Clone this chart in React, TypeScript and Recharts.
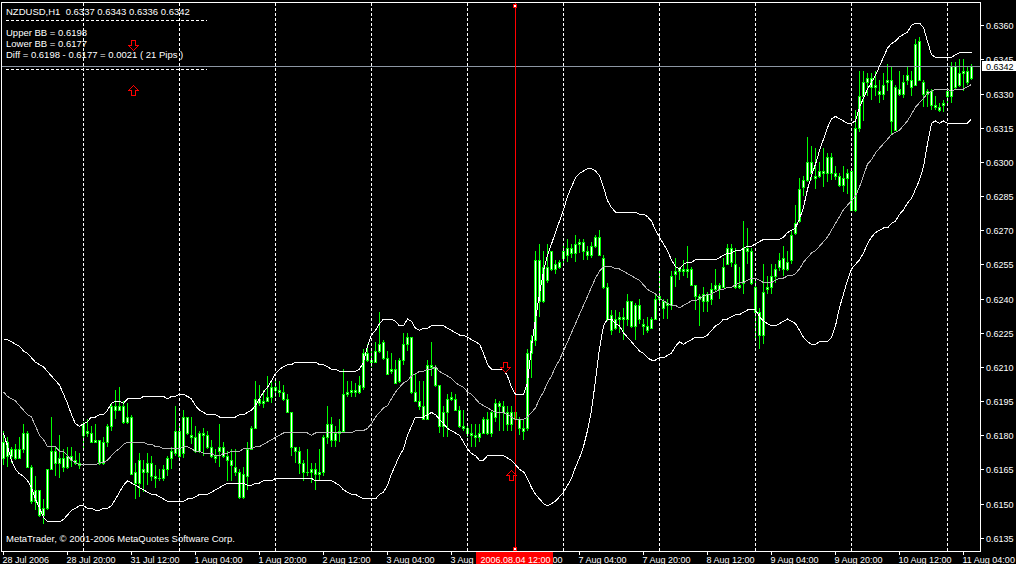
import React from "react";
import {
  ComposedChart,
  Bar,
  Line,
  XAxis,
  YAxis,
  ReferenceLine,
  ReferenceDot,
} from "recharts";

const LIME = "#00ff00";
const FONT = '"Liberation Sans", Arial, sans-serif';

// NZDUSD H1, one entry per hourly bar starting 28 Jul 2006 04:00, prices in pips (6170 = 0.6170)
const opens = [
  6170, 6177, 6171, 6174, 6170, 6174, 6181, 6166, 6151, 6156,
  6145, 6148, 6165, 6173, 6168, 6170, 6166, 6171, 6169, 6168,
  6180, 6182, 6181, 6177, 6178, 6168, 6177, 6184, 6193, 6191,
  6193, 6186, 6188, 6164, 6159, 6165, 6164, 6168, 6162, 6161,
  6161, 6165, 6170, 6172, 6182, 6172, 6188, 6180, 6179, 6173,
  6181, 6180, 6175, 6171, 6173, 6175, 6171, 6169, 6166, 6164,
  6153, 6162, 6174, 6183, 6196, 6194, 6195, 6197, 6201, 6200,
  6199, 6196, 6190, 6175, 6173, 6168, 6164, 6164, 6165, 6163,
  6164, 6179, 6185, 6178, 6181, 6182, 6198, 6199, 6200, 6199,
  6201, 6216, 6213, 6212, 6217, 6221, 6214, 6208, 6209, 6204,
  6213, 6220, 6223, 6199, 6195, 6193, 6187, 6211, 6210, 6202,
  6184, 6190, 6196, 6196, 6191, 6184, 6183, 6181, 6180, 6179,
  6181, 6187, 6181, 6188, 6194, 6193, 6190, 6185, 6190, 6187,
  6183, 6183, 6216, 6222, 6257, 6239, 6254, 6253, 6255, 6254,
  6258, 6259, 6262, 6260, 6264, 6265, 6261, 6259, 6263, 6267,
  6258, 6245, 6233, 6227, 6231, 6232, 6231, 6239, 6228, 6237,
  6229, 6228, 6227, 6231, 6240, 6239, 6237, 6237, 6251, 6252,
  6253, 6252, 6253, 6246, 6241, 6239, 6242, 6240, 6244, 6246,
  6245, 6255, 6262, 6255, 6245, 6247, 6262, 6261, 6245, 6234,
  6224, 6244, 6245, 6250, 6254, 6258, 6253, 6257, 6269, 6274,
  6289, 6292, 6300, 6294, 6294, 6296, 6295, 6302, 6295, 6294,
  6290, 6293, 6296, 6279, 6315, 6329, 6335, 6337, 6333, 6331,
  6330, 6335, 6336, 6314, 6332, 6330, 6336, 6336, 6334, 6353,
  6335, 6330, 6331, 6325, 6324, 6325, 6329, 6329, 6342, 6334,
  6339, 6340, 6337,
];
const highs = [
  6182, 6179, 6175, 6176, 6179, 6185, 6182, 6167, 6162, 6156,
  6152, 6165, 6188, 6175, 6180, 6174, 6175, 6175, 6173, 6172,
  6186, 6187, 6184, 6185, 6178, 6179, 6185, 6194, 6200, 6201,
  6195, 6194, 6189, 6168, 6172, 6169, 6172, 6171, 6167, 6165,
  6167, 6171, 6175, 6193, 6185, 6191, 6188, 6188, 6184, 6182,
  6183, 6182, 6178, 6174, 6185, 6177, 6173, 6174, 6174, 6165,
  6166, 6177, 6184, 6204, 6202, 6200, 6206, 6204, 6204, 6204,
  6202, 6198, 6190, 6175, 6175, 6169, 6174, 6168, 6168, 6174,
  6180, 6193, 6188, 6184, 6187, 6209, 6204, 6204, 6203, 6206,
  6218, 6220, 6217, 6221, 6234, 6222, 6217, 6216, 6213, 6214,
  6225, 6225, 6223, 6207, 6204, 6204, 6213, 6221, 6211, 6202,
  6193, 6198, 6199, 6198, 6193, 6191, 6185, 6185, 6185, 6185,
  6188, 6190, 6191, 6196, 6195, 6195, 6193, 6193, 6193, 6188,
  6187, 6218, 6224, 6261, 6264, 6261, 6264, 6261, 6257, 6257,
  6264, 6266, 6264, 6268, 6266, 6266, 6263, 6265, 6268, 6270,
  6259, 6247, 6235, 6235, 6234, 6236, 6242, 6239, 6238, 6240,
  6231, 6232, 6232, 6242, 6253, 6240, 6240, 6252, 6258, 6254,
  6257, 6263, 6254, 6246, 6242, 6245, 6243, 6247, 6253, 6247,
  6258, 6264, 6264, 6262, 6254, 6274, 6271, 6262, 6249, 6236,
  6255, 6250, 6255, 6255, 6260, 6263, 6261, 6270, 6281, 6293,
  6294, 6311, 6307, 6306, 6300, 6306, 6304, 6304, 6298, 6295,
  6298, 6297, 6296, 6323, 6340, 6340, 6339, 6339, 6340, 6336,
  6339, 6343, 6342, 6334, 6340, 6338, 6342, 6340, 6354, 6355,
  6336, 6332, 6332, 6329, 6326, 6327, 6332, 6344, 6344, 6345,
  6345, 6342, 6343,
];
const lows = [
  6167, 6166, 6168, 6169, 6170, 6172, 6166, 6150, 6147, 6144,
  6141, 6147, 6165, 6162, 6161, 6164, 6165, 6166, 6167, 6165,
  6174, 6179, 6177, 6177, 6167, 6167, 6175, 6182, 6187, 6191,
  6185, 6185, 6163, 6152, 6153, 6155, 6158, 6160, 6157, 6160,
  6160, 6162, 6165, 6171, 6169, 6170, 6180, 6176, 6172, 6172,
  6171, 6174, 6170, 6168, 6166, 6170, 6160, 6160, 6162, 6152,
  6152, 6156, 6174, 6183, 6193, 6192, 6195, 6194, 6197, 6197,
  6195, 6190, 6171, 6168, 6163, 6160, 6162, 6159, 6156, 6160,
  6162, 6176, 6175, 6175, 6177, 6182, 6197, 6197, 6197, 6198,
  6200, 6212, 6210, 6212, 6216, 6213, 6207, 6207, 6203, 6203,
  6211, 6217, 6198, 6195, 6191, 6187, 6187, 6206, 6201, 6181,
  6179, 6179, 6195, 6191, 6183, 6182, 6179, 6175, 6175, 6177,
  6181, 6180, 6179, 6186, 6182, 6182, 6182, 6182, 6181, 6180,
  6178, 6182, 6205, 6219, 6232, 6238, 6247, 6252, 6251, 6253,
  6255, 6256, 6258, 6256, 6260, 6257, 6257, 6258, 6262, 6259,
  6244, 6230, 6224, 6226, 6225, 6222, 6228, 6227, 6222, 6229,
  6224, 6225, 6227, 6231, 6238, 6231, 6231, 6235, 6245, 6248,
  6250, 6249, 6246, 6235, 6228, 6234, 6234, 6237, 6243, 6240,
  6245, 6255, 6254, 6244, 6244, 6242, 6255, 6246, 6222, 6218,
  6220, 6242, 6242, 6247, 6252, 6250, 6252, 6255, 6268, 6273,
  6285, 6291, 6292, 6288, 6293, 6289, 6291, 6292, 6292, 6289,
  6287, 6286, 6279, 6278, 6313, 6318, 6329, 6327, 6329, 6326,
  6327, 6331, 6312, 6314, 6329, 6328, 6334, 6329, 6334, 6336,
  6324, 6324, 6323, 6323, 6322, 6322, 6326, 6326, 6332, 6333,
  6331, 6334, 6336,
];
const closes = [
  6177, 6171, 6174, 6170, 6174, 6181, 6166, 6151, 6156, 6145,
  6148, 6165, 6173, 6168, 6170, 6166, 6171, 6169, 6168, 6167,
  6185, 6181, 6177, 6178, 6168, 6177, 6184, 6193, 6191, 6193,
  6186, 6188, 6163, 6159, 6169, 6164, 6168, 6162, 6161, 6161,
  6165, 6170, 6173, 6182, 6171, 6188, 6181, 6179, 6173, 6181,
  6180, 6175, 6171, 6170, 6175, 6171, 6169, 6167, 6164, 6153,
  6163, 6174, 6183, 6196, 6194, 6195, 6197, 6201, 6200, 6199,
  6196, 6190, 6175, 6173, 6168, 6164, 6164, 6165, 6163, 6164,
  6179, 6185, 6178, 6181, 6182, 6198, 6199, 6200, 6199, 6202,
  6216, 6213, 6212, 6217, 6220, 6214, 6207, 6209, 6203, 6213,
  6220, 6223, 6199, 6195, 6193, 6187, 6211, 6210, 6202, 6184,
  6190, 6196, 6197, 6191, 6184, 6183, 6181, 6180, 6179, 6181,
  6187, 6181, 6190, 6194, 6193, 6190, 6185, 6190, 6187, 6183,
  6182, 6216, 6222, 6257, 6239, 6254, 6248, 6261, 6253, 6256,
  6261, 6262, 6260, 6264, 6265, 6261, 6259, 6263, 6267, 6259,
  6245, 6231, 6226, 6231, 6232, 6231, 6239, 6228, 6237, 6231,
  6228, 6226, 6231, 6240, 6241, 6236, 6238, 6250, 6252, 6253,
  6252, 6253, 6246, 6241, 6240, 6242, 6239, 6244, 6246, 6244,
  6254, 6262, 6256, 6245, 6246, 6262, 6261, 6247, 6234, 6224,
  6243, 6245, 6250, 6253, 6257, 6253, 6256, 6268, 6273, 6288,
  6292, 6300, 6295, 6293, 6296, 6295, 6302, 6295, 6294, 6290,
  6293, 6295, 6279, 6315, 6329, 6335, 6337, 6333, 6334, 6330,
  6334, 6336, 6318, 6333, 6330, 6335, 6338, 6333, 6352, 6336,
  6330, 6331, 6325, 6324, 6323, 6326, 6331, 6342, 6333, 6339,
  6340, 6335, 6342,
];

// Bollinger Bands (20, 2), in pips
const upperBand = [
  6222, 6222, 6221, 6220, 6219, 6217, 6216, 6214, 6212, 6211,
  6210, 6208, 6206, 6204, 6202, 6198, 6194, 6189, 6185, 6184,
  6185, 6186, 6188, 6188, 6189, 6189, 6191, 6194, 6195, 6195,
  6194, 6196, 6196, 6196, 6196, 6197, 6197, 6197, 6197, 6197,
  6197, 6196, 6197, 6197, 6198, 6198, 6197, 6196, 6193, 6191,
  6190, 6189, 6189, 6189, 6188, 6188, 6188, 6188, 6188, 6189,
  6189, 6190, 6191, 6193, 6196, 6199, 6201, 6204, 6207, 6209,
  6210, 6211, 6211, 6212, 6212, 6212, 6212, 6212, 6212, 6211,
  6211, 6210, 6209, 6209, 6208, 6208, 6208, 6208, 6208, 6209,
  6212, 6219, 6224, 6226, 6229, 6231, 6231, 6231, 6230, 6228,
  6228, 6231, 6230, 6227, 6226, 6227, 6227, 6228, 6228, 6228,
  6228, 6227, 6226, 6225, 6224, 6224, 6223, 6222, 6221, 6220,
  6216, 6211, 6209, 6209, 6209, 6209, 6206, 6201, 6198, 6198,
  6198, 6203, 6219, 6231, 6242, 6252, 6259, 6264, 6269, 6274,
  6279, 6285, 6289, 6293, 6295, 6296, 6297, 6297, 6296, 6294,
  6289, 6283, 6280, 6278, 6278, 6278, 6278, 6278, 6278, 6277,
  6277, 6276, 6274, 6270, 6267, 6264, 6261, 6257, 6254, 6253,
  6255, 6256, 6256, 6257, 6257, 6257, 6257, 6257, 6257, 6258,
  6259, 6260, 6260, 6261, 6261, 6262, 6263, 6263, 6264, 6265,
  6266, 6266, 6266, 6266, 6266, 6267, 6269, 6270, 6271, 6275,
  6280, 6288, 6294, 6299, 6305, 6310, 6315, 6319, 6320, 6319,
  6318, 6317, 6317, 6318, 6324, 6328, 6332, 6335, 6338, 6342,
  6346, 6350, 6352, 6353, 6355, 6356, 6357, 6360, 6361, 6361,
  6359, 6353, 6347, 6346, 6346, 6346, 6346, 6346, 6347, 6348,
  6348, 6348, 6348,
];
const middleBand = [
  6199, 6197, 6196, 6195, 6193, 6191, 6189, 6188, 6184, 6180,
  6178, 6175, 6175, 6175, 6173, 6173, 6171, 6169, 6168, 6167,
  6167, 6167, 6167, 6167, 6168, 6168, 6169, 6171, 6173, 6174,
  6176, 6177, 6177, 6177, 6177, 6177, 6176, 6176, 6175, 6175,
  6174, 6174, 6174, 6174, 6174, 6175, 6175, 6174, 6173, 6173,
  6172, 6172, 6172, 6171, 6171, 6172, 6172, 6173, 6173, 6173,
  6174, 6174, 6174, 6175, 6175, 6176, 6177, 6178, 6179, 6180,
  6181, 6181, 6181, 6181, 6181, 6181, 6181, 6180, 6181, 6181,
  6181, 6181, 6181, 6181, 6181, 6181, 6181, 6181, 6182, 6182,
  6182, 6183, 6185, 6188, 6190, 6192, 6193, 6196, 6199, 6201,
  6203, 6204, 6206, 6207, 6208, 6208, 6209, 6209, 6210, 6208,
  6207, 6206, 6205, 6203, 6202, 6201, 6199, 6198, 6196, 6194,
  6193, 6192, 6191, 6190, 6190, 6190, 6189, 6188, 6187, 6187,
  6187, 6188, 6190, 6192, 6196, 6199, 6203, 6206, 6210, 6213,
  6217, 6221, 6225, 6229, 6233, 6237, 6241, 6245, 6249, 6252,
  6254, 6254, 6254, 6253, 6253, 6252, 6251, 6250, 6249, 6248,
  6246, 6244, 6243, 6242, 6240, 6239, 6238, 6237, 6237, 6236,
  6237, 6238, 6239, 6239, 6240, 6241, 6242, 6242, 6243, 6244,
  6244, 6245, 6245, 6246, 6247, 6247, 6248, 6249, 6249, 6248,
  6247, 6247, 6247, 6248, 6249, 6249, 6250, 6250, 6251, 6253,
  6256, 6258, 6260, 6261, 6263, 6265, 6267, 6270, 6273, 6276,
  6279, 6281, 6283, 6285, 6289, 6294, 6299, 6301, 6304, 6306,
  6308, 6310, 6312, 6313, 6314, 6316, 6318, 6321, 6324, 6326,
  6328, 6330, 6331, 6332, 6332, 6332, 6332, 6331, 6332, 6332,
  6332, 6333, 6334,
];
const lowerBand = [
  6181, 6175, 6169, 6165, 6163, 6162, 6160, 6157, 6152, 6148,
  6144, 6142, 6142, 6142, 6142, 6143, 6145, 6147, 6148, 6149,
  6149, 6148, 6148, 6147, 6147, 6148, 6148, 6149, 6152, 6155,
  6158, 6160, 6159, 6158, 6157, 6156, 6155, 6154, 6154, 6153,
  6152, 6151, 6151, 6151, 6151, 6151, 6152, 6152, 6153, 6154,
  6154, 6154, 6155, 6156, 6157, 6158, 6159, 6159, 6159, 6159,
  6159, 6158, 6158, 6159, 6159, 6160, 6160, 6160, 6161, 6161,
  6161, 6161, 6161, 6161, 6161, 6161, 6161, 6161, 6160, 6160,
  6160, 6160, 6160, 6159, 6158, 6156, 6155, 6154, 6154, 6153,
  6152, 6152, 6152, 6152, 6154, 6155, 6158, 6163, 6167, 6171,
  6174, 6180, 6184, 6188, 6188, 6188, 6189, 6190, 6189, 6187,
  6185, 6183, 6182, 6181, 6180, 6177, 6174, 6172, 6171, 6169,
  6169, 6171, 6171, 6171, 6171, 6171, 6170, 6169, 6167, 6165,
  6164, 6161, 6157, 6154, 6152, 6150, 6149, 6150, 6151, 6153,
  6155, 6158, 6161, 6166, 6170, 6175, 6182, 6191, 6204, 6218,
  6228, 6231, 6231, 6229, 6228, 6225, 6223, 6221, 6219, 6217,
  6216, 6214, 6213, 6213, 6214, 6214, 6215, 6216, 6219, 6221,
  6220, 6221, 6222, 6223, 6223, 6223, 6224, 6226, 6228, 6229,
  6231, 6231, 6232, 6233, 6233, 6234, 6235, 6235, 6235, 6232,
  6230, 6229, 6228, 6228, 6229, 6230, 6231, 6230, 6229, 6226,
  6223, 6221, 6220, 6220, 6221, 6221, 6221, 6223, 6228, 6236,
  6242, 6248, 6253, 6255, 6257, 6260, 6264, 6267, 6269, 6270,
  6271, 6271, 6273, 6274, 6277, 6279, 6282, 6284, 6288, 6292,
  6298, 6308, 6317, 6318, 6317, 6318, 6317, 6317, 6317, 6317,
  6317, 6317, 6319,
];

const quoteLine = "NZDUSD,H1  0.6337 0.6343 0.6336 0.6342";
const commentLines = [
  "Upper BB = 0.6198",
  "Lower BB = 0.6177",
  "Diff = 0.6198 - 0.6177 = 0.0021 ( 21 Pips )",
];
const copyright = "MetaTrader, \u00a9 2001-2006 MetaQuotes Software Corp.";

const timeTickBars = [0, 16, 32, 48, 64, 80, 96, 112, 128, 144, 160, 176, 192, 208, 224, 240];
const timeTickLabels = [
  "28 Jul 2006", "28 Jul 20:00", "31 Jul 12:00", "1 Aug 04:00",
  "1 Aug 20:00", "2 Aug 12:00", "3 Aug 04:00", "3 Aug 20:00",
  "4 Aug 12:00", "7 Aug 04:00", "7 Aug 20:00", "8 Aug 12:00",
  "9 Aug 04:00", "9 Aug 20:00", "10 Aug 12:00", "11 Aug 04:00",
];
const daySeparatorBars = [20, 44, 68, 92, 116, 140, 164, 188, 212, 236];

const priceTicks = [
  0.6135, 0.615, 0.6165, 0.618, 0.6195, 0.621, 0.6225, 0.624,
  0.6255, 0.627, 0.6285, 0.63, 0.6315, 0.633, 0.6345, 0.636,
];
const lastPrice = 0.6342;

const crosshairBar = 128;
const crosshairLabel = "2006.08.04 12:00";

const arrowBars = [32.6, 32.6, 125.4, 127.1];
const arrowPrices = [0.63513, 0.63312, 0.62097, 0.61621];
const arrowDirs = ["down", "up", "down", "up"];

const PRICE_MIN = 0.612916;
const PRICE_MAX = 0.636979;

const data = closes.map((c, i) => ({
  i,
  open: opens[i] / 10000,
  high: highs[i] / 10000,
  low: lows[i] / 10000,
  close: c / 10000,
  range: [lows[i] / 10000, highs[i] / 10000],
  upper: upperBand[i] / 10000,
  middle: middleBand[i] / 10000,
  lower: lowerBand[i] / 10000,
}));

function Candle(props: any) {
  const { x, y, width, height, payload } = props;
  if (x == null || y == null || !payload) return null;
  const yTop = Math.min(y, y + height);
  const h = Math.abs(height);
  const c = Math.floor(x + width / 2);
  const span = payload.high - payload.low;
  const toY = (v: number) => (span > 0 ? yTop + ((payload.high - v) / span) * h : yTop);
  const wickTop = Math.round(yTop);
  const wickBottom = Math.round(yTop + h);
  const top = Math.round(toY(Math.max(payload.open, payload.close)));
  const bottom = Math.round(toY(Math.min(payload.open, payload.close)));
  const bh = Math.max(bottom - top, 0);
  return (
    <g>
      <rect x={c} y={wickTop} width={1} height={Math.max(wickBottom - wickTop, 1)} fill={LIME} />
      <rect x={c - 1} y={top} width={3} height={bh + 1} fill={LIME} />
      {bh > 1 && <rect x={c} y={top + 1} width={1} height={bh - 1} fill="#ffffff" />}
    </g>
  );
}

function TimeTick(props: any) {
  const { x, y, payload } = props;
  const idx = timeTickBars.indexOf(payload.value);
  const px = Math.floor(x) + 0.5;
  return (
    <g>
      <line x1={px} x2={px} y1={y} y2={y + 4} stroke="#ffffff" />
      <text x={px - 1} y={y + 12} fill="#ffffff" fontSize={9} fontFamily={FONT}>
        {timeTickLabels[idx]}
      </text>
      {payload.value === crosshairBar && (
        <g>
          <rect x={px - 39.5} y={y + 1} width={77} height={13} fill="#ff0000" />
          <text x={px} y={y + 12} fill="#ffffff" fontSize={9} fontFamily={FONT} textAnchor="middle">
            {crosshairLabel}
          </text>
        </g>
      )}
    </g>
  );
}

function PriceTick(props: any) {
  const { x, y, payload } = props;
  const v = payload.value;
  const ry = Math.round(y);
  if (v === lastPrice) {
    return (
      <g>
        <rect x={x + 1} y={ry - 5} width={35} height={10} fill="#ffffff" />
        <text x={x + 5} y={ry + 3.5} fill="#000000" fontSize={9} fontFamily={FONT}>
          {v.toFixed(4)}
        </text>
      </g>
    );
  }
  return (
    <g>
      <line x1={x} x2={x + 3} y1={ry + 0.5} y2={ry + 0.5} stroke="#ffffff" />
      <text x={x + 5} y={ry + 3.5} fill="#ffffff" fontSize={9} fontFamily={FONT}>
        {v.toFixed(4)}
      </text>
    </g>
  );
}

function Arrow({ cx, cy, dir }: any) {
  if (cx == null || cy == null) return null;
  const x = Math.floor(cx) + 0.5;
  const y = Math.floor(cy) + 0.5;
  const s = dir === "down" ? 1 : -1;
  const pts = [
    [-2, -5], [2, -5], [2, 0], [5, 0], [0, 5], [-5, 0], [-2, 0],
  ]
    .map(([dx, dy]) => `${x + dx},${y + dy * s}`)
    .join(" ");
  return <polygon points={pts} fill="#000000" stroke="#ff0000" strokeWidth={1} />;
}

function CrossSquare({ cx, cy, side }: any) {
  if (cx == null || cy == null) return null;
  const c = Math.floor(cx);
  const yy = side === "top" ? Math.round(cy) + 1 : Math.round(cy) - 4;
  return <rect x={c - 1.5} y={yy + 0.5} width={3} height={3} fill="#ffffff" stroke="#ff0000" />;
}

export default function App() {
  const text = { fill: "#ffffff", fontSize: 9.5, fontFamily: FONT } as const;
  return (
    <div
      style={{
        position: "absolute",
        left: 0,
        top: 0,
        width: 1016,
        height: 564,
        background: "#000000",
        overflow: "hidden",
        shapeRendering: "crispEdges",
      }}
    >
      <ComposedChart
        width={1016}
        height={564}
        data={data}
        margin={{ top: 3, right: 0, bottom: 0, left: 2 }}
      >
        <XAxis
          dataKey="i"
          type="number"
          domain={[-0.375, 244.375]}
          allowDataOverflow
          ticks={timeTickBars}
          interval={0}
          height={13}
          tickSize={0}
          tickMargin={0}
          axisLine={false}
          tickLine={false}
          tick={<TimeTick />}
        />
        <YAxis
          orientation="right"
          type="number"
          domain={[PRICE_MIN, PRICE_MAX]}
          allowDataOverflow
          ticks={[...priceTicks, lastPrice]}
          interval={0}
          width={35}
          tickSize={0}
          tickMargin={0}
          axisLine={false}
          tickLine={false}
          tick={<PriceTick />}
        />
        {daySeparatorBars.map((b) => (
          <ReferenceLine key={b} x={b} stroke="#ffffff" strokeDasharray="3 2" />
        ))}
        <ReferenceLine y={lastPrice} stroke="#8c96a3" />
        <ReferenceLine x={crosshairBar} stroke="#ff0000" />
        <Bar
          dataKey="range"
          barSize={3}
          isAnimationActive={false}
          shape={(p: any) => <Candle {...p} />}
        />
        <Line dataKey="upper" type="linear" stroke="#ffffff" strokeWidth={1} dot={false} activeDot={false} isAnimationActive={false} />
        <Line dataKey="middle" type="linear" stroke="#b4b4b4" strokeWidth={1} dot={false} activeDot={false} isAnimationActive={false} />
        <Line dataKey="lower" type="linear" stroke="#ffffff" strokeWidth={1} dot={false} activeDot={false} isAnimationActive={false} />
        {arrowBars.map((b, k) => (
          <ReferenceDot
            key={k}
            x={b}
            y={arrowPrices[k]}
            r={0}
            ifOverflow="visible"
            shape={(p: any) => <Arrow cx={p.cx} cy={p.cy} dir={arrowDirs[k]} />}
          />
        ))}
        <ReferenceDot
          x={crosshairBar}
          y={PRICE_MAX}
          r={0}
          ifOverflow="visible"
          shape={(p: any) => <CrossSquare cx={p.cx} cy={p.cy} side="top" />}
        />
        <ReferenceDot
          x={crosshairBar}
          y={PRICE_MIN}
          r={0}
          ifOverflow="visible"
          shape={(p: any) => <CrossSquare cx={p.cx} cy={p.cy} side="bottom" />}
        />
      </ComposedChart>
      <svg
        width={1016}
        height={564}
        style={{ position: "absolute", left: 0, top: 0, pointerEvents: "none" }}
      >
        <line x1={1} x2={981} y1={2.5} y2={2.5} stroke="#ffffff" />
        <line x1={1.5} x2={1.5} y1={2} y2={552} stroke="#ffffff" />
        <line x1={1} x2={981} y1={551.5} y2={551.5} stroke="#ffffff" />
        <line x1={980.5} x2={980.5} y1={2} y2={552} stroke="#ffffff" />
        <text x={6} y={15} {...text} style={{ whiteSpace: "pre" }}>
          {quoteLine}
        </text>
        <line x1={6} x2={207} y1={20.5} y2={20.5} stroke="#ffffff" strokeDasharray="3 2" />
        {commentLines.map((t, k) => (
          <text key={k} x={6} y={36 + k * 11} {...text} style={{ whiteSpace: "pre" }}>
            {t}
          </text>
        ))}
        <line x1={6} x2={207} y1={69.5} y2={69.5} stroke="#ffffff" strokeDasharray="3 2" />
        <text x={6} y={542} {...text}>
          {copyright}
        </text>
      </svg>
    </div>
  );
}
